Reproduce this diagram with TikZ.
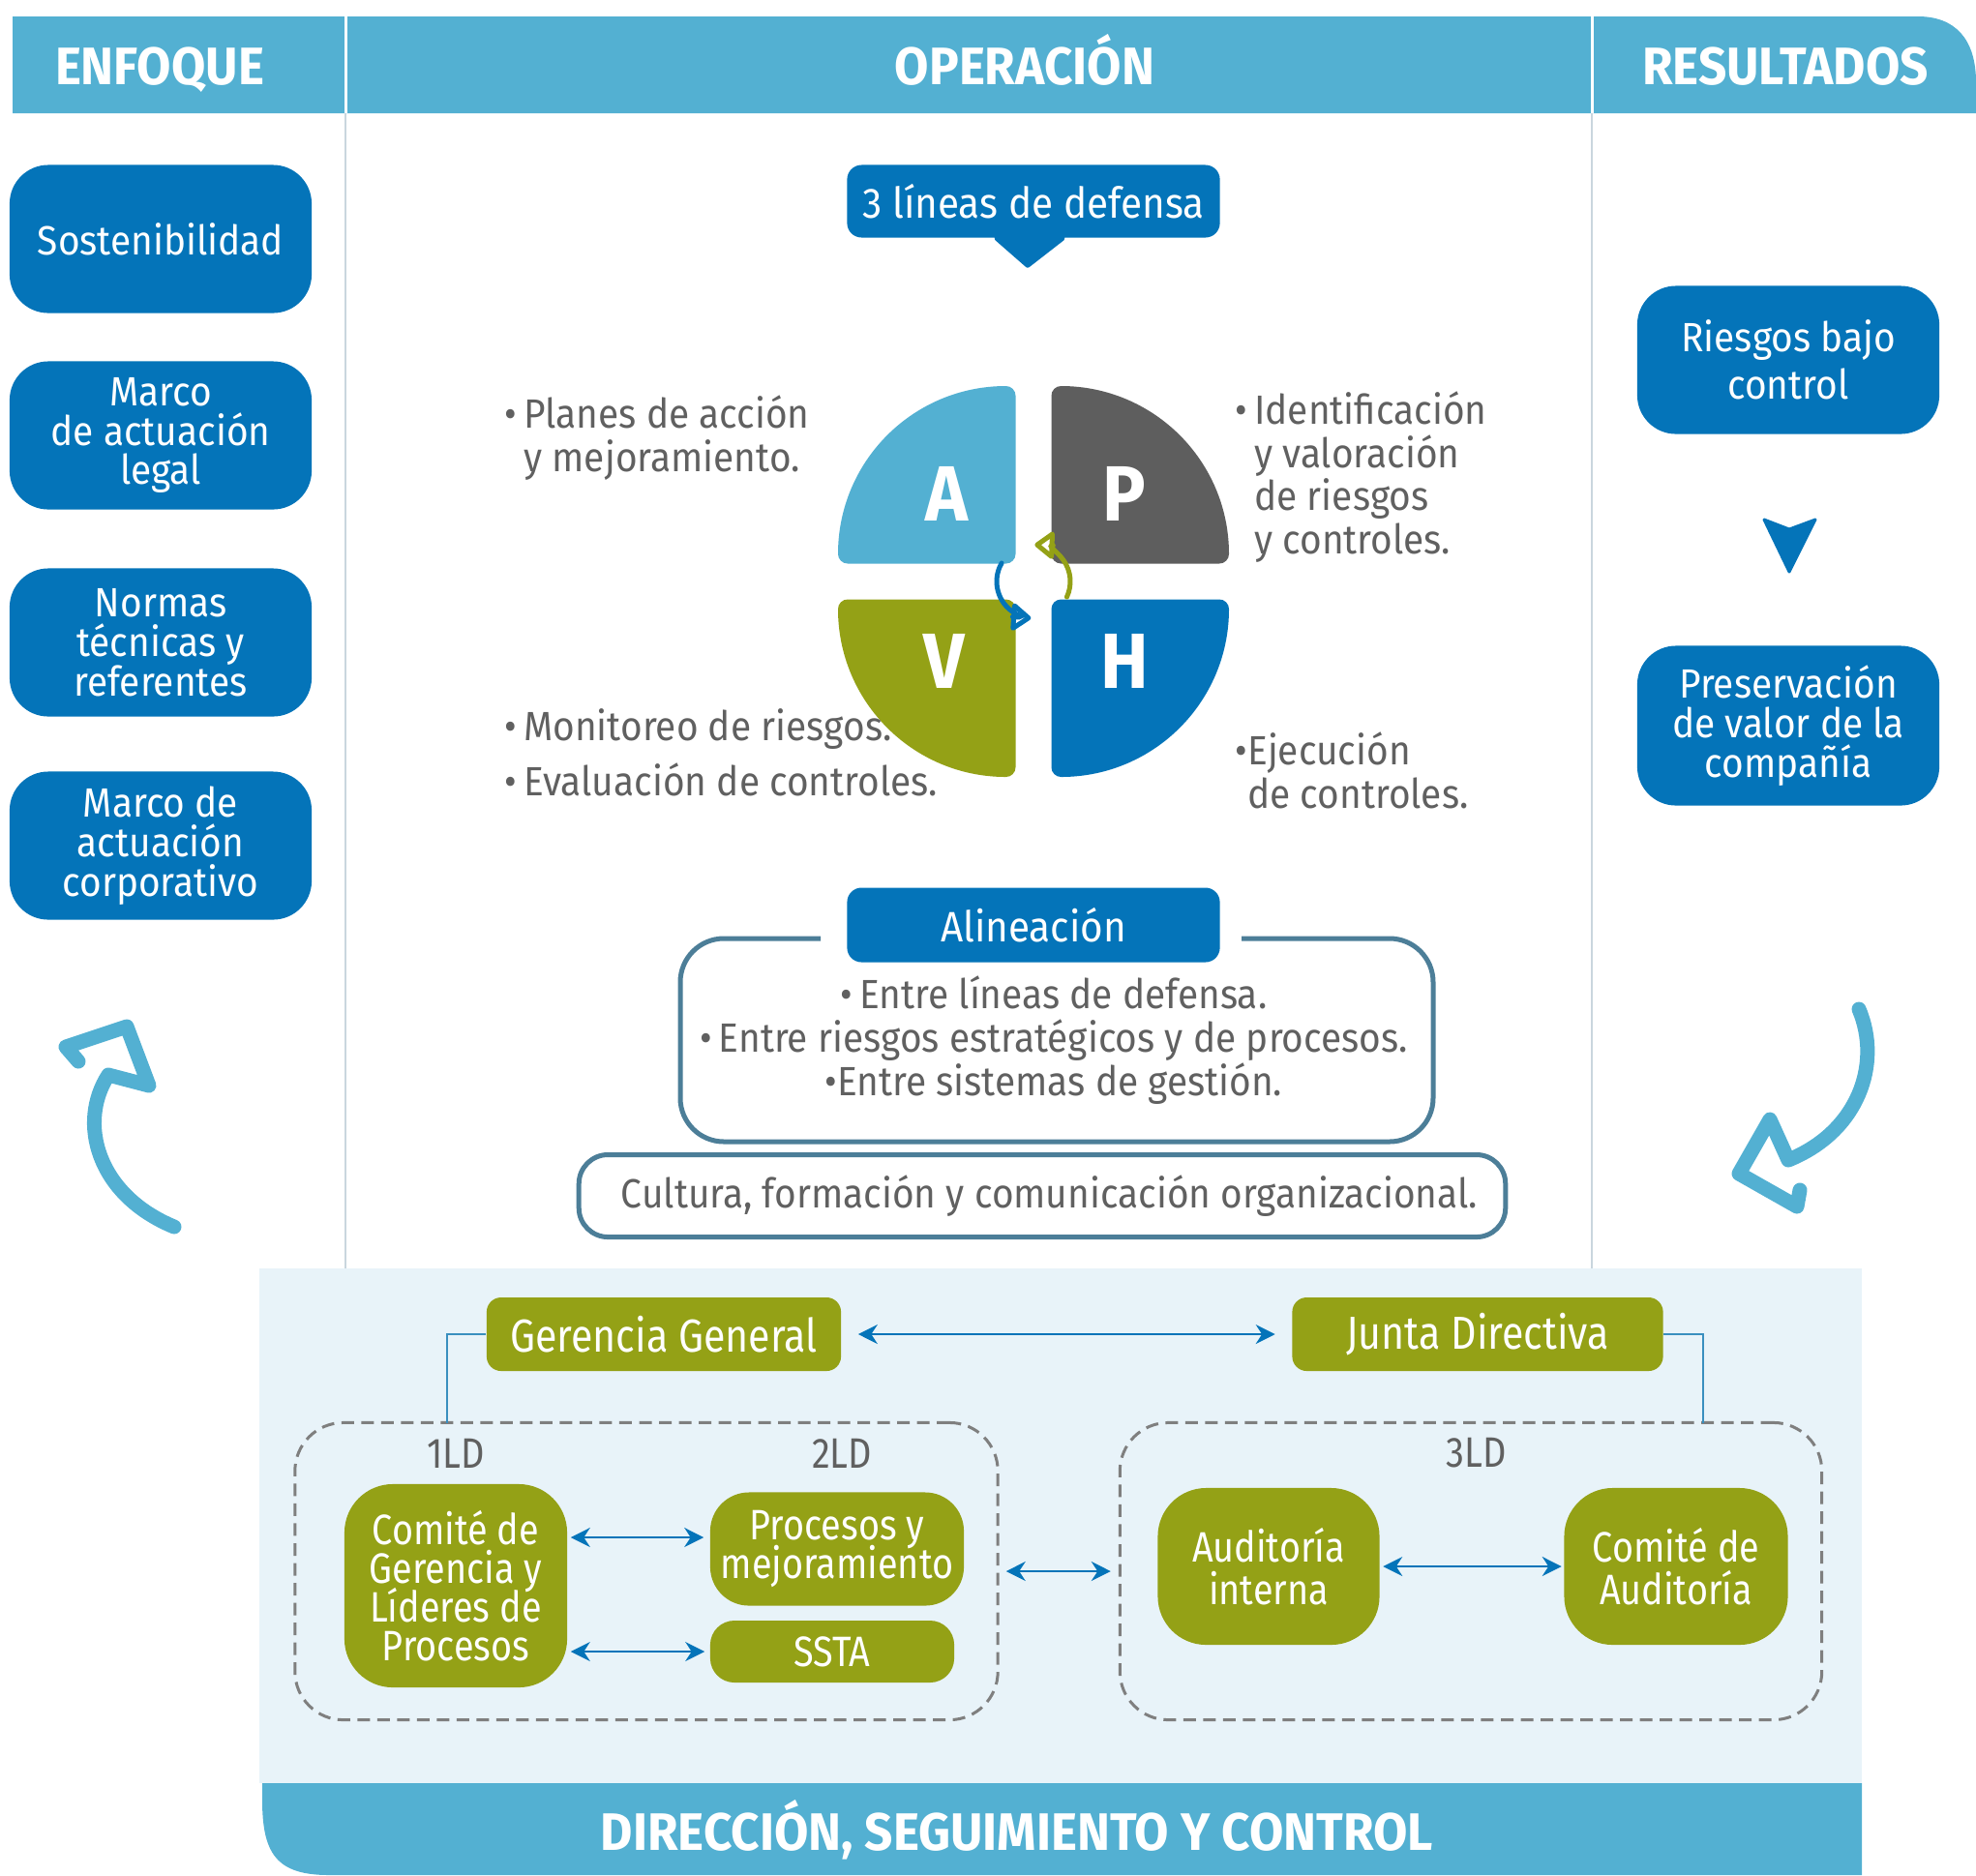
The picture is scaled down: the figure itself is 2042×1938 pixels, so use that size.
\documentclass[tikz,border=0pt]{standalone}
\usepackage{fontspec}
\setmainfont{Fira Sans}[FakeStretch=0.92]
\newfontfamily\hdrfont[FakeStretch=0.94]{Fira Sans}
\newfontfamily\condfont[FakeStretch=0.86]{Fira Sans}
\newcommand\tightlines{\lineskiplimit=-5pt\relax}
\usetikzlibrary{arrows.meta}

\definecolor{hdrblue}{HTML}{53B0D2}
\definecolor{dblue}{HTML}{0474B9}
\definecolor{pgray}{HTML}{5E5E5E}
\definecolor{olivegr}{HTML}{94A116}
\definecolor{txtgray}{HTML}{606060}
\definecolor{panelbg}{HTML}{E8F3F9}
\definecolor{frameblue}{HTML}{4C7E98}
\definecolor{dashgray}{HTML}{7F7F7F}
\definecolor{colline}{HTML}{C9D6DE}
\definecolor{linkblue}{HTML}{3A8FBF}

\begin{document}
\begin{tikzpicture}[x=0.01cm, y=-0.01cm,
    hdrtxt/.style={text=white, anchor=base, font=\hdrfont\bfseries\fontsize{15.5}{16}\selectfont},
    quadtxt/.style={text=white, font=\bfseries\fontsize{23}{23}\selectfont},
    bluebox/.style={fill=dblue, text=white, align=center, inner sep=0pt,
      rounded corners=0.4cm, minimum width=3.12cm, minimum height=1.53cm,
      font=\fontsize{12}{11.6}\selectfont\tightlines},
    tagbox/.style={fill=dblue, text=white, inner sep=0pt, rounded corners=0.15cm,
      minimum width=3.85cm, font=\fontsize{12.5}{13}\selectfont},
    graytxt/.style={text=txtgray, align=left, inner sep=0pt, anchor=north west,
      font=\fontsize{12}{12.7}\selectfont},
    gbox/.style={fill=olivegr, text=white, align=center, inner sep=0pt,
      font=\condfont\fontsize{12.5}{11.4}\selectfont\tightlines},
    ldbox/.style={draw=dashgray, line width=0.03cm, dash pattern=on 0.13cm off 0.075cm,
      rounded corners=0.5cm, minimum width=7.26cm, minimum height=3.07cm},
    ldlabel/.style={text=txtgray, font=\condfont\fontsize{12.5}{13}\selectfont},
    biarrow/.style={draw=dblue, line width=0.02cm,
      {Stealth[length=0.2cm,width=0.2cm]}-{Stealth[length=0.2cm,width=0.2cm]}},
    linkline/.style={draw=linkblue, line width=0.018cm},
    bigarrow/.style={draw=hdrblue, line width=0.15cm, line cap=round, line join=round},
    quad/.style={line width=0.2cm, line join=round},
    cycarrow/.style={line width=0.05cm, line cap=round,
      -{Triangle[open,round,length=0.22cm,width=0.32cm]}}]
  \useasboundingbox (0,0) rectangle (2042,1938);

  % bottom panel
  \fill[panelbg] (268,1311) rectangle (1924,1843);
  \fill[hdrblue] (271,1843) -- (271,1860) .. controls (271,1915) and (285,1938) .. (340,1938)
    -- (1924,1938) -- (1924,1843) -- cycle;
  \node[hdrtxt] (direccion) at (1051,1912) {DIRECCIÓN, SEGUIMIENTO Y CONTROL};

  % header bar and columns
  \fill[hdrblue] (13,17) -- (1982,17) .. controls (2020,17) and (2042,40) .. (2042,85)
    -- (2042,117) -- (13,117) -- cycle;
  \draw[white, line width=0.03cm] (357,17) -- (357,117) (1645,17) -- (1645,117);
  \draw[colline, line width=0.025cm] (357,117) -- (357,1311) (1645,117) -- (1645,1311);
  \node[hdrtxt] (enfoque) at (165,87) {ENFOQUE};
  \node[hdrtxt] (operacion) at (1059,87) {OPERACIÓN};
  \node[hdrtxt] (resultados) at (1845,87) {RESULTADOS};

  % enfoque
  \node[bluebox] (sosten) at (166,247) {Sostenibilidad};
  \node[bluebox] (legal) at (166,450) {Marco\\de actuación\\legal};
  \node[bluebox] (normas) at (166,664) {Normas\\técnicas y\\referentes};
  \node[bluebox] (corpor) at (166,874) {Marco de\\actuación\\corporativo};
  \draw[bigarrow] (180,1268) .. controls (100,1235) and (80,1160) .. (112,1111)
    -- (154,1122) -- (131,1061) -- (68,1082) -- (81,1097);

  % resultados
  \node[bluebox, font=\fontsize{12}{14}\selectfont] (riesgos) at (1848,372) {Riesgos bajo\\control};
  \node[bluebox, minimum height=1.65cm] (valor) at (1848,750) {Preservación\\de valor de la\\compañía};
  \fill[dblue, draw=dblue, line width=0.03cm, line join=round]
    (1823,537) -- (1849,547) -- (1876,537) -- (1849,591) -- cycle;
  \draw[bigarrow] (1921,1043) .. controls (1945,1100) and (1920,1170) .. (1848,1199)
    -- (1829,1157) -- (1797,1213) -- (1857,1247) -- (1860,1230);

  % operacion
  \node[tagbox, minimum height=0.75cm] (lineas) at (1068,208) {3 líneas de defensa};
  \fill[dblue, draw=dblue, line width=0.05cm, line join=round]
    ([xshift=-0.38cm]lineas.south) -- ([xshift=-0.06cm,yshift=-0.28cm]lineas.south)
    -- ([xshift=0.3cm]lineas.south) -- cycle;

  \begin{scope}[shift={(1068,601)}, x=0.01cm, y=0.01cm]
    \filldraw[quad, fill=hdrblue, draw=hdrblue] (-28.5,28.5) -- (-192,28.5)
      arc[start angle=180, end angle=90, radius=163.5] -- cycle;
    \filldraw[quad, fill=pgray, draw=pgray] (28.5,28.5) -- (28.5,192)
      arc[start angle=90, end angle=0, radius=163.5] -- cycle;
    \filldraw[quad, fill=olivegr, draw=olivegr] (-28.5,-28.5) -- (-28.5,-192)
      arc[start angle=270, end angle=180, radius=163.5] -- cycle;
    \filldraw[quad, fill=dblue, draw=dblue] (28.5,-28.5) -- (192,-28.5)
      arc[start angle=0, end angle=-90, radius=163.5] -- cycle;
    \node[quadtxt] (qa) at (-90,91) {A};
    \node[quadtxt] (qp) at (94,91) {P};
    \node[quadtxt] (qv) at (-92,-82) {V};
    \node[quadtxt] (qh) at (94,-82) {H};
    \draw[cycarrow, olivegr] (-25:38) arc[start angle=-25, end angle=88, radius=38];
    \draw[cycarrow, dblue] (150:38) arc[start angle=150, end angle=266, radius=38];
  \end{scope}

  \node[graytxt] (planes) at (521,408) {•\,Planes de acción\\\phantom{•\,}y mejoramiento.};
  \node[graytxt] (identif) at (1276,404) {•\,Identificación\\\phantom{•\,}y valoración\\\phantom{•\,}de riesgos\\\phantom{•\,}y controles.};
  \node[graytxt] (monitor) at (521,732) {•\,Monitoreo de riesgos.};
  \node[graytxt] (evalua) at (521,788) {•\,Evaluación de controles.};
  \node[graytxt] (ejecuc) at (1276,756) {•Ejecución\\\phantom{•}de controles.};

  % alineacion
  \draw[frameblue, line width=0.05cm, rounded corners=0.45cm]
    (848,970) -- (703,970) -- (703,1180) -- (1481,1180) -- (1481,970) -- (1283,970);
  \node[tagbox, minimum height=0.77cm] (alin) at (1068,956) {Alineación};
  \node[text=txtgray, align=center, font=\fontsize{12}{12.8}\selectfont] (alintxt) at (1089,1075)
    {•\,Entre líneas de defensa.\\•\,Entre riesgos estratégicos y de procesos.\\•Entre sistemas de gestión.};
  \node[draw=frameblue, line width=0.05cm, rounded corners=0.3cm, minimum width=9.57cm,
    minimum height=0.85cm, text=txtgray, font=\fontsize{12}{13}\selectfont] (cultura) at (1077,1236)
    {\hspace{0.15cm}Cultura, formación y comunicación organizacional.};

  % direccion, seguimiento y control
  \node[ldbox] (lbox) at (668,1624) {};
  \node[ldbox, minimum width=7.25cm] (rbox) at (1520,1624) {};
  \node[gbox, font=\condfont\fontsize{13.6}{14}\selectfont, rounded corners=0.15cm,
    minimum width=3.66cm, minimum height=0.76cm] (gg) at (686,1379) {Gerencia General};
  \node[gbox, font=\condfont\fontsize{13.6}{14}\selectfont, rounded corners=0.15cm,
    minimum width=3.83cm, minimum height=0.76cm] (jd) at (1527,1379) {Junta Directiva};
  \node[ldlabel] (ld1) at (471,1502) {1LD};
  \node[ldlabel] (ld2) at (870,1502) {2LD};
  \node[ldlabel] (ld3) at (1526,1502) {3LD};
  \node[gbox, rounded corners=0.5cm, minimum width=2.3cm, minimum height=2.1cm] (comite) at (471,1639)
    {Comité de\\Gerencia y\\Líderes de\\Procesos};
  \node[gbox, rounded corners=0.4cm, minimum width=2.62cm, minimum height=1.17cm] (procesos) at (865,1601)
    {Procesos y\\mejoramiento};
  \node[gbox, rounded corners=0.25cm, minimum width=2.52cm, minimum height=0.64cm] (ssta) at (860,1707) {SSTA};
  \node[gbox, font=\condfont\fontsize{12.5}{12.5}\selectfont\tightlines, rounded corners=0.5cm,
    minimum width=2.29cm, minimum height=1.62cm] (audint) at (1311,1619) {Auditoría\\interna};
  \node[gbox, font=\condfont\fontsize{12.5}{12.5}\selectfont\tightlines, rounded corners=0.5cm,
    minimum width=2.31cm, minimum height=1.62cm] (comaud) at (1732,1619) {Comité de\\Auditoría};

  \coordinate (gglink) at (462,1471);
  \coordinate (jdlink) at (1760,1471);
  \draw[linkline] (gg.west) -| (gglink);
  \draw[linkline] (jd.east) -| (jdlink);
  \draw[biarrow, shorten <=0.17cm, shorten >=0.17cm] (gg.east) -- (jd.west);
  \draw[biarrow, shorten <=0.03cm, shorten >=0.06cm]
    ([yshift=0.12cm]procesos.west -| comite.east) -- ([yshift=0.12cm]procesos.west);
  \draw[biarrow, shorten <=0.03cm, shorten >=0.05cm] (ssta.west -| comite.east) -- (ssta.west);
  \draw[biarrow, shorten <=0.07cm, shorten >=0.08cm] (lbox.east) -- (rbox.west);
  \draw[biarrow, shorten <=0.03cm, shorten >=0.02cm] (audint.east) -- (comaud.west);
\end{tikzpicture}
\end{document}
